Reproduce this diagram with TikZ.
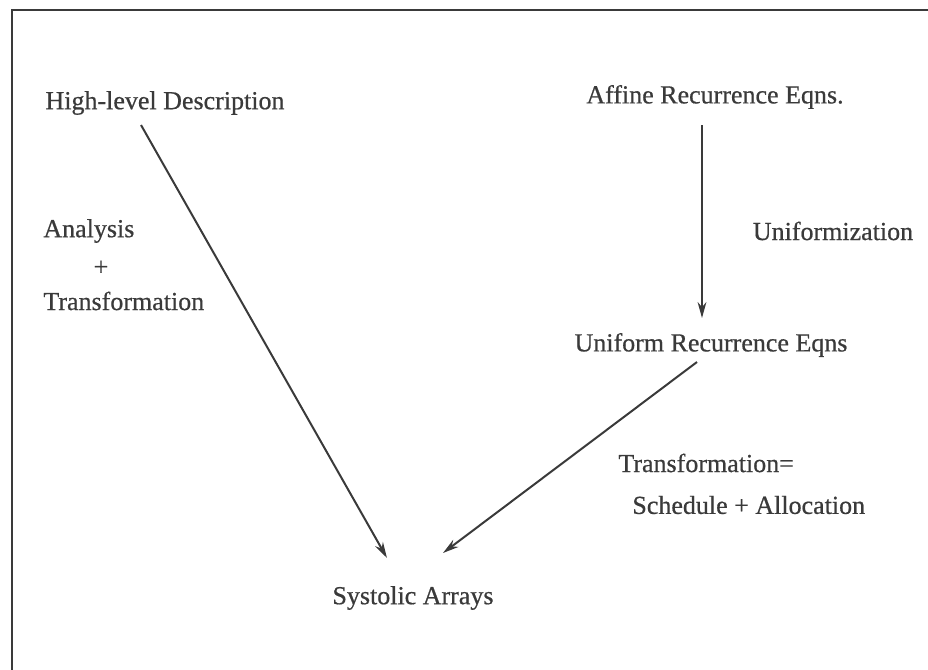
\documentclass[tikz,border=0pt]{standalone}
\usepackage{fontspec}
\setmainfont{Liberation Serif}[BoldFont={Liberation Serif}, BoldFeatures={FakeBold=0.6}]
\usetikzlibrary{arrows.meta}
\definecolor{ink}{HTML}{3A3A3A}
\tikzset{
  lbl/.style={inner sep=0pt, text=ink, font=\fontsize{13}{15}\selectfont\bfseries},
  arr/.style={draw=ink, line width=1pt, -{Stealth[length=8pt,width=4.4pt]}},
  frame/.style={draw=ink, line width=1.4pt}
}
\begin{document}
\begin{tikzpicture}[x=0.5pt,y=-0.5pt]
\useasboundingbox (0,0) rectangle (928,670);
\draw[frame] (12,672) -- (12,10) -- (930,10);
% text nodes
\node[lbl] (hld) at (165,103) {High-level Description};
\node[lbl] (are) at (715,97) {Affine Recurrence Eqns.};
\node[lbl] (unif) at (833,231) {Uniformization};
\node[lbl] (ure) at (711,345) {Uniform Recurrence Eqns};
\node[lbl, anchor=west] (ana) at (43,231) {Analysis};
\node[lbl] (plus) at (101,268) {+};
\node[lbl, anchor=west] (tr1) at (43,301) {Transformation};
\node[lbl, anchor=west] (tr2) at (618,463) {Transformation=};
\node[lbl, anchor=west] (sch) at (632,505) {Schedule + Allocation};
\node[lbl] (sa) at (413,598) {Systolic Arrays};
% connector end points
\coordinate (p1) at (141,125);
\coordinate (p2) at (387,558);
\coordinate (q1) at (702,125);
\coordinate (q2) at (702,318);
\coordinate (r1) at (697,362);
\coordinate (r2) at (443,553);
\draw[arr] (p1) -- (p2);
\draw[arr] (q1) -- (q2);
\draw[arr] (r1) -- (r2);
\end{tikzpicture}
\end{document}
